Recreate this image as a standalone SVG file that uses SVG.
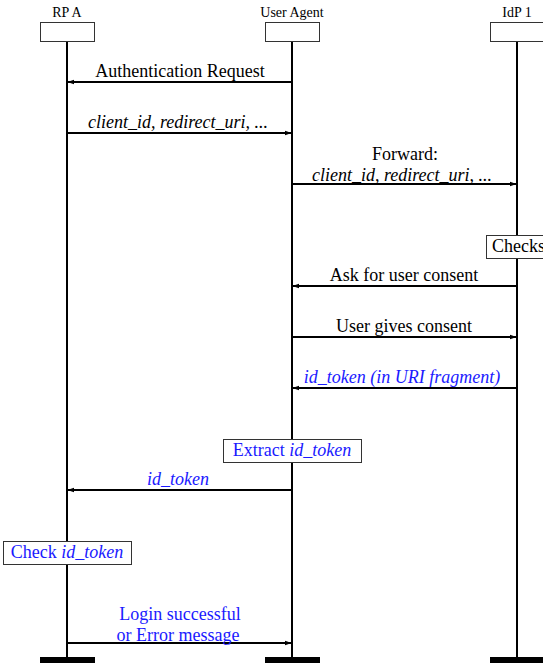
<svg xmlns="http://www.w3.org/2000/svg" width="543" height="663" viewBox="0 0 543 663" font-family="'Liberation Serif', 'DejaVu Serif', serif">
<defs>
<marker id="ah" viewBox="0 0 10 10" refX="9" refY="5" markerWidth="3.5" markerHeight="3.5" orient="auto">
<path d="M0,1.5 L10,5 L0,8.5 Z" fill="#000"/>
</marker>
<style>
text{font-family:'Liberation Serif','DejaVu Serif',serif}
.hdr{font-size:14px;fill:#000;text-anchor:middle}
.lbl{font-size:18px;fill:#000;text-anchor:middle}
.it{font-style:italic}
.blue{fill:#1a1aff}
.box{fill:#fff;stroke:#333;stroke-width:1}
.life{stroke:#000;stroke-width:2}
.msg{stroke:#000;stroke-width:2;fill:none;marker-end:url(#ah)}
.bar{fill:#000}
</style>
</defs>
<rect width="543" height="663" fill="#fff"/>
<g id="rpa">
<text class="hdr" x="67" y="17">RP A</text>
<rect class="box" x="40.5" y="22.5" width="54" height="19"/>
<line class="life" x1="67" y1="42" x2="67" y2="657"/>
<rect class="bar" x="40" y="657" width="55" height="6"/>
</g>
<g id="ua">
<text class="hdr" x="292" y="17">User Agent</text>
<rect class="box" x="265.5" y="22.5" width="54" height="19"/>
<line class="life" x1="292" y1="42" x2="292" y2="657"/>
<rect class="bar" x="265" y="657" width="55" height="6"/>
</g>
<g id="idp">
<text class="hdr" x="517" y="17">IdP 1</text>
<rect class="box" x="490.5" y="22.5" width="54" height="19"/>
<line class="life" x1="517" y1="42" x2="517" y2="657"/>
<rect class="bar" x="490" y="657" width="55" height="6"/>
</g>
<g id="connectors">
<line class="msg" x1="292" y1="82" x2="68" y2="82"/>
<line class="msg" x1="67" y1="133" x2="291" y2="133"/>
<line class="msg" x1="292" y1="184" x2="516" y2="184"/>
<line class="msg" x1="517" y1="286" x2="293" y2="286"/>
<line class="msg" x1="292" y1="337" x2="516" y2="337"/>
<line class="msg" x1="517" y1="388" x2="293" y2="388"/>
<line class="msg" x1="292" y1="490" x2="68" y2="490"/>
<line class="msg" x1="67" y1="643" x2="291" y2="643"/>
</g>
<g id="labels">
<text class="lbl" x="180" y="77">Authentication Request</text>
<text class="lbl it" x="178" y="128">client_id, redirect_uri, ...</text>
<text class="lbl" x="405" y="160">Forward:</text>
<text class="lbl it" x="402" y="181">client_id, redirect_uri, ...</text>
<text class="lbl" x="404" y="281">Ask for user consent</text>
<text class="lbl" x="404" y="332">User gives consent</text>
<text class="lbl it blue" x="402" y="383">id_token (in URI fragment)</text>
<text class="lbl it blue" x="178" y="485">id_token</text>
<text class="lbl blue" x="180" y="620">Login successful</text>
<text class="lbl blue" x="178" y="641">or Error message</text>
</g>
<g id="checks">
<rect class="box" x="486.5" y="235.5" width="60" height="23"/>
<text class="lbl" x="492" y="252" style="text-anchor:start">Checks</text>
</g>
<g id="extract">
<rect class="box" x="223.5" y="439.5" width="138" height="23"/>
<text class="lbl blue" x="292" y="456">Extract <tspan class="it">id_token</tspan></text>
</g>
<g id="check">
<rect class="box" x="3.5" y="541.5" width="128" height="23"/>
<text class="lbl blue" x="67" y="558">Check <tspan class="it">id_token</tspan></text>
</g>
</svg>
